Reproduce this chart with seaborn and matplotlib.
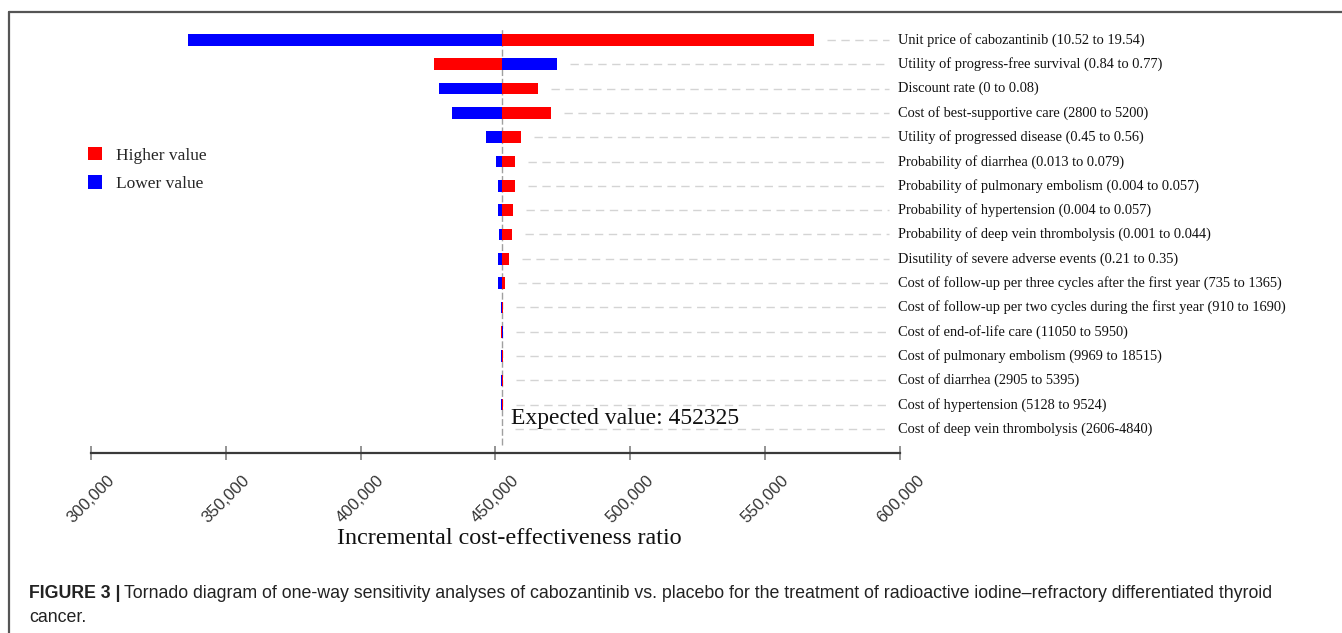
import numpy as np
import pandas as pd
import matplotlib
matplotlib.use("Agg")
import matplotlib.pyplot as plt
import matplotlib.transforms as mtransforms
from matplotlib.lines import Line2D
from matplotlib.patches import Patch
import seaborn as sns

# One-way sensitivity inputs (parameter range shown in the label)
parameters = [
    "Unit price of cabozantinib (10.52 to 19.54)",
    "Utility of progress-free survival (0.84 to 0.77)",
    "Discount rate (0 to 0.08)",
    "Cost of best-supportive care (2800 to 5200)",
    "Utility of progressed disease (0.45 to 0.56)",
    "Probability of diarrhea (0.013 to 0.079)",
    "Probability of pulmonary embolism (0.004 to 0.057)",
    "Probability of hypertension (0.004 to 0.057)",
    "Probability of deep vein thrombolysis (0.001 to 0.044)",
    "Disutility of severe adverse events (0.21 to 0.35)",
    "Cost of follow-up per three cycles after the first year (735 to 1365)",
    "Cost of follow-up per two cycles during the first year (910 to 1690)",
    "Cost of end-of-life care (11050 to 5950)",
    "Cost of pulmonary embolism (9969 to 18515)",
    "Cost of diarrhea (2905 to 5395)",
    "Cost of hypertension (5128 to 9524)",
    "Cost of deep vein thrombolysis (2606-4840)",
]
# ICER when the parameter takes its higher / lower value
icer_high = [568000, 427300, 465800, 470600, 459300, 457200, 457200, 456600,
             456100, 455100, 453500, 452900, 452100, 452800, 452800, 452800, 452500]
icer_low = [336200, 472700, 429000, 433800, 446500, 450300, 450800, 450800,
            451300, 450800, 450800, 452000, 452900, 452200, 452200, 452200, 452250]
expected_value = 452325
x_ticks = [300000, 350000, 400000, 450000, 500000, 550000, 600000]

W, H = 1342, 633

sns.set_theme(style="white")
plt.rcParams["font.family"] = ["Liberation Serif", "DejaVu Serif"]

n = len(parameters)
df = pd.DataFrame({
    "parameter": parameters * 2,
    "shift": np.r_[np.array(icer_high) - expected_value,
                   np.array(icer_low) - expected_value],
    "bound": ["Higher value"] * n + ["Lower value"] * n,
})
palette = {"Higher value": "#ff0000", "Lower value": "#0000ff"}

fig = plt.figure(figsize=(W / 100, H / 100), dpi=100)
ax_left, ax_right = 90.7, 900.3
ax_top, ax_bottom = 28.0, 452.7
ax = fig.add_axes([ax_left / W, (H - ax_bottom) / H,
                   (ax_right - ax_left) / W, (ax_bottom - ax_top) / H])

sns.barplot(data=df, y="parameter", x="shift", hue="bound", order=parameters,
            palette=palette, orient="h", dodge=False, width=0.48,
            saturation=1, errorbar=None, linewidth=0, legend=False, ax=ax)

x0, x1 = x_ticks[0] - expected_value, x_ticks[-1] - expected_value
ax.set_xlim(x0, x1)
row_px = 24.31
ax.set_ylim((ax_bottom - 40) / row_px, -(40 - ax_top) / row_px)

# spines and ticks
for side in ["top", "right", "left"]:
    ax.spines[side].set_visible(False)
ax.spines["bottom"].set_color("#3a3a3a")
ax.spines["bottom"].set_linewidth(1.6)
ax.set_yticks([])
ax.set_ylabel("")
ax.set_xlabel("")
ax.set_xticks(np.array(x_ticks) - expected_value)
ax.set_xticklabels([f"{t:,}" for t in x_ticks], rotation=45, ha="center",
                   family="Liberation Sans", fontsize=12, color="#333333")
ax.tick_params(axis="x", direction="inout", length=10, width=1.1,
               color="#777777", pad=9.4, bottom=True)

# expected value reference line
ax.axvline(0, ymin=(ax_bottom - 445) / (ax_bottom - ax_top), ymax=1,
           color="#a0a0a0", lw=1.0, ls=(0, (5, 2)), zorder=0)
ax.text(3450, 15.55, f"Expected value: {expected_value}", fontsize=17,
        ha="left", va="center", color="#111111")

# leader lines and parameter labels
px_per_unit = (ax_right - ax_left) / (x1 - x0)
lead_end = x0 + (889 - ax_left) / px_per_unit
gap = 13 / px_per_unit
lab_tr = mtransforms.blended_transform_factory(ax.transAxes, ax.transData)
for i, name in enumerate(parameters):
    start = max(icer_high[i], icer_low[i], expected_value) - expected_value + gap
    ax.plot([start, lead_end], [i, i], color="#d4d4d4", lw=1.0,
            ls=(0, (6, 4)), zorder=0)
    ax.text((897.5 - ax_left) / (ax_right - ax_left), i, name, transform=lab_tr,
            ha="left", va="center", fontsize=10.4, color="#111111", clip_on=False)

# legend
handles = [Patch(facecolor=palette[k], edgecolor="none") for k in palette]
fig.legend(handles, list(palette), loc="upper left",
           bbox_to_anchor=(88.3 / W, 1 - 147 / H), frameon=False,
           fontsize=12.5, handlelength=0.8, handleheight=0.8,
           handletextpad=0.8, labelspacing=0.68, borderpad=0, borderaxespad=0)

# axis title
fig.text(509 / W, 1 - 538 / H, "Incremental cost-effectiveness ratio",
         fontsize=17.4, ha="center", va="center", color="#111111")

# frame around the figure panel
fig.add_artist(Line2D([9 / W, 1], [1 - 12 / H] * 2, color="#555555", lw=1.6))
fig.add_artist(Line2D([9 / W] * 2, [0, 1 - 12 / H], color="#555555", lw=1.6))

# caption
cap_size = 12.8
t_bold = fig.text(29 / W, 1 - 593 / H, "FIGURE 3 |", family="Liberation Sans",
                  weight="bold", fontsize=cap_size, va="center", color="#222222")
fig.canvas.draw()
bb = t_bold.get_window_extent(fig.canvas.get_renderer())
fig.text((bb.x1 + 4) / W, 1 - 593 / H,
         "Tornado diagram of one-way sensitivity analyses of cabozantinib vs. placebo "
         "for the treatment of radioactive iodine\u2013refractory differentiated thyroid",
         family="Liberation Sans", fontsize=cap_size, va="center", color="#222222")
fig.text(29 / W, 1 - 617 / H, "cancer.", family="Liberation Sans",
         fontsize=cap_size, va="center", color="#222222")

fig.savefig("out.png", dpi=100)
